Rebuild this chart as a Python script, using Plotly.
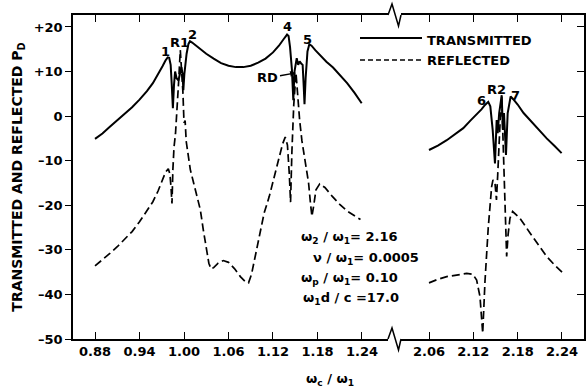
import plotly.graph_objects as go

# ---------------- data ----------------
# lower branch (around the fundamental resonance)
t_left_x = [0.880, 0.890, 0.900, 0.910, 0.920, 0.930, 0.940, 0.950, 0.958, 0.965,
            0.971, 0.975, 0.978, 0.980, 0.982, 0.9835, 0.985, 0.9865, 0.988, 0.990,
            0.9925, 0.9945, 0.9965, 0.998, 0.9991, 1.0005, 1.0015, 1.0035, 1.006, 1.008,
            1.011, 1.016, 1.022, 1.030, 1.040, 1.050, 1.060, 1.070, 1.080, 1.090,
            1.100, 1.110, 1.120, 1.128, 1.134, 1.139, 1.141, 1.143, 1.1455, 1.1474,
            1.149, 1.1505, 1.152, 1.154, 1.156, 1.158, 1.160, 1.1615, 1.1625, 1.164,
            1.1665, 1.169, 1.172, 1.177, 1.184, 1.192, 1.201, 1.210, 1.220, 1.230, 1.2396]
t_left_y = [-5.1, -3.9, -2.4, -1.0, 0.5, 2.0, 3.7, 5.6, 7.4, 9.3,
            11.2, 12.5, 13.2, 13.1, 11.5, 7.0, 1.8, 7.0, 10.0, 8.5,
            8.0, 9.5, 11.0, 9.5, 5.8, 9.5, 11.5, 14.0, 16.2, 16.8,
            16.5, 15.8, 15.0, 14.0, 12.9, 11.9, 11.3, 11.0, 11.0, 11.3,
            12.0, 12.9, 14.3, 15.8, 17.2, 18.3, 18.0, 15.5, 10.5, 3.6,
            10.0, 12.0, 13.0, 11.5, 12.3, 11.8, 11.5, 6.5, 2.7, 8.5,
            14.5, 16.1, 15.8, 14.8, 13.6, 12.2, 10.9, 9.3, 7.4, 5.2, 2.9]

r_left_x = [0.880, 0.890, 0.900, 0.910, 0.920, 0.930, 0.940, 0.950, 0.958, 0.965,
            0.971, 0.975, 0.9788, 0.981, 0.9825, 0.9838, 0.985, 0.9865, 0.9885, 0.9905,
            0.9925, 0.995, 0.9965, 0.9985, 1.000, 1.0015, 1.003, 1.0055, 1.0085, 1.013,
            1.018, 1.022, 1.026, 1.030, 1.0335, 1.0365, 1.040, 1.046, 1.053, 1.060,
            1.068, 1.076, 1.083, 1.087, 1.091, 1.096, 1.102, 1.108, 1.115, 1.122,
            1.128, 1.133, 1.1365, 1.1395, 1.142, 1.1437, 1.1455, 1.148, 1.151, 1.153,
            1.156, 1.159, 1.162, 1.165, 1.168, 1.1705, 1.1725, 1.175, 1.178, 1.183,
            1.190, 1.200, 1.210, 1.220, 1.230, 1.238]
r_left_y = [-33.6, -32.3, -30.8, -29.3, -27.7, -25.9, -23.7, -21.3, -19.2, -16.8,
            -14.3, -12.6, -11.8, -13.0, -16.0, -19.6, -12.0, -7.0, -4.0, 0.5,
            7.0, 14.8, 11.0, 5.5, -1.5, -1.0, -5.7, -9.0, -12.0, -15.0,
            -18.0, -21.0, -25.5, -29.8, -33.0, -34.3, -34.0, -33.0, -32.4, -32.8,
            -34.2, -36.0, -37.2, -37.4, -35.5, -31.5, -26.5, -21.8, -18.0, -13.5,
            -9.0, -6.2, -4.7, -6.5, -13.0, -19.3, -8.0, 2.5, 9.7, 5.0,
            -1.0, -5.5, -9.0, -11.5, -15.0, -19.5, -22.5, -20.0, -16.5, -15.2,
            -16.0, -18.0, -19.8, -21.3, -22.4, -23.2]

# upper branch (around omega_2)
t_right_x = [2.060, 2.072, 2.084, 2.095, 2.1064, 2.116, 2.1245, 2.131, 2.1358, 2.1402,
             2.143, 2.1462, 2.1493, 2.1516, 2.153, 2.155, 2.1584, 2.160, 2.1615, 2.1642,
             2.1665, 2.169, 2.1705, 2.174, 2.180, 2.188, 2.1967, 2.208, 2.2193, 2.230, 2.2395]
t_right_y = [-7.6, -6.6, -5.4, -4.1, -2.7, -1.0, 0.3, 1.5, 2.5, 3.2,
             2.2, -3.1, -10.6, -0.9, -3.8, 0.7, 4.7, -3.1, 0.7, -8.7,
             0.7, 3.5, 4.4, 3.8, 2.6, 0.7, -0.9, -3.0, -5.0, -6.7, -8.3]

r_right_x = [2.060, 2.072, 2.084, 2.098, 2.111, 2.1195, 2.1245, 2.129, 2.1327, 2.1358,
             2.1402, 2.1448, 2.1466, 2.1493, 2.1513, 2.153, 2.1547, 2.157, 2.1584, 2.160,
             2.1615, 2.163, 2.1651, 2.167, 2.1696, 2.1732, 2.183, 2.1967, 2.208, 2.2193,
             2.230, 2.2413]
r_right_y = [-37.4, -36.6, -36.0, -35.6, -35.3, -35.5, -36.8, -40.5, -48.7, -37.0,
             -25.0, -15.8, -14.3, -15.0, -18.8, -13.2, -5.4, 1.4, 4.4, -5.4,
             -12.0, -18.8, -31.5, -26.7, -22.9, -21.4, -22.9, -26.2, -29.0, -31.5,
             -33.4, -35.2]

y_ticks = [-50, -40, -30, -20, -10, 0, 10, 20]
y_tick_text = ["–50", "–40", "–30", "–20", "–10", "0", "+10", "+20"]
x_left_ticks = [0.88, 0.94, 1.00, 1.06, 1.12, 1.18, 1.24]
x_right_ticks = [2.06, 2.12, 2.18, 2.24]

# ---------------- layout geometry ----------------
W, H = 587, 391
ML, MR, MT, MB = 73, 3, 15, 52
PW, PH = W - ML - MR, H - MT - MB


def px(xp):
    return (xp - ML) / PW


def py(yp):
    return (H - MB - yp) / PH


GAP_L, GAP_R = 388, 401
FONT = dict(family="DejaVu Sans", size=13, color="black", weight="bold")
SOLID = dict(color="black", width=2)
DASHED = dict(color="black", width=1.7, dash="8px,4px")

fig = go.Figure()
fig.add_trace(go.Scatter(x=t_left_x, y=t_left_y, mode="lines", line=SOLID,
                         name="TRANSMITTED", xaxis="x", yaxis="y"))
fig.add_trace(go.Scatter(x=r_left_x, y=r_left_y, mode="lines", line=DASHED,
                         name="REFLECTED", xaxis="x", yaxis="y"))
fig.add_trace(go.Scatter(x=t_right_x, y=t_right_y, mode="lines", line=SOLID,
                         name="TRANSMITTED", xaxis="x2", yaxis="y2"))
fig.add_trace(go.Scatter(x=r_right_x, y=r_right_y, mode="lines", line=DASHED,
                         name="REFLECTED", xaxis="x2", yaxis="y2"))

y_range = [-50, 22.69]
xcommon = dict(showline=True, linecolor="black", linewidth=1.5, mirror="ticks",
               ticks="inside", ticklen=7, tickwidth=1.2, tickcolor="black",
               showgrid=False, zeroline=False, tickfont=FONT)

fig.update_layout(
    width=W, height=H, autosize=False,
    margin=dict(l=ML, r=MR, t=MT, b=MB),
    paper_bgcolor="white", plot_bgcolor="white",
    showlegend=False,
    xaxis=dict(domain=[0, px(GAP_L)], range=[0.8503, 1.2751], anchor="y",
               tickvals=x_left_ticks, ticktext=[f"{v:.2f}" for v in x_left_ticks],
               **xcommon),
    xaxis2=dict(domain=[px(GAP_R), 1], range=[2.0221, 2.2698], anchor="y2",
                tickvals=x_right_ticks, ticktext=[f"{v:.2f}" for v in x_right_ticks],
                **xcommon),
    yaxis=dict(range=y_range, anchor="x", tickvals=y_ticks, ticktext=y_tick_text,
               showline=True, linecolor="black", linewidth=1.5, ticks="outside",
               ticklen=6, tickwidth=1.2, tickcolor="black", showgrid=False,
               zeroline=False, tickfont=FONT,
               title=dict(text="TRANSMITTED AND REFLECTED P<sub>D</sub>",
                          font=dict(family="DejaVu Sans", size=14, color="black",
                                    weight="bold"),
                          standoff=8)),
    yaxis2=dict(range=y_range, anchor="x2", side="right", tickvals=y_ticks,
                showticklabels=False, showline=True, linecolor="black", linewidth=1.5,
                ticks="inside", ticklen=7, tickwidth=1.2, tickcolor="black",
                showgrid=False, zeroline=False),
)

# axis break marks (top and bottom frame)
for base in (H - MB, MT):
    pts = [(GAP_L, base), (GAP_L + 4, base - 11), (GAP_L + 10.5, base + 11), (GAP_R, base)]
    path = "M " + " L ".join(f"{px(a):.5f},{py(b):.5f}" for a, b in pts)
    fig.add_shape(type="path", path=path, xref="paper", yref="paper",
                  line=dict(color="black", width=1.5))

# key
fig.add_shape(type="line", xref="paper", yref="paper", x0=px(360), x1=px(422),
              y0=py(38), y1=py(38), line=SOLID)
fig.add_shape(type="line", xref="paper", yref="paper", x0=px(360), x1=px(421),
              y0=py(60), y1=py(60), line=dict(color="black", width=1.5, dash="5px,3px"))
fig.add_annotation(text="TRANSMITTED", xref="paper", yref="paper", x=px(425), y=py(40),
                   xanchor="left", yanchor="middle", showarrow=False, font=FONT)
fig.add_annotation(text="REFLECTED", xref="paper", yref="paper", x=px(425), y=py(61),
                   xanchor="left", yanchor="middle", showarrow=False, font=FONT)

# resonance labels
for txt, xv, yv, ax in [("1", 0.9744, 14.4, "x"), ("R1", 0.9933, 16.6, "x"),
                        ("2", 1.0121, 18.4, "x"), ("4", 1.1402, 20.0, "x"),
                        ("5", 1.1672, 17.3, "x"), ("6", 2.1317, 3.6, "x2"),
                        ("R2", 2.1507, 5.9, "x2"), ("7", 2.1764, 4.7, "x2")]:
    fig.add_annotation(text=txt, x=xv, y=yv, xref=ax, yref="y", showarrow=False,
                       font=FONT, xanchor="center", yanchor="middle")

fig.add_annotation(text="RD", x=1.151, y=9.7, xref="x", yref="y", ax=-28, ay=5,
                   showarrow=True, arrowhead=2, arrowsize=0.9, arrowwidth=1.3,
                   arrowcolor="black", font=FONT)

# parameter block
params = [("ω<sub>2</sub> / ω<sub>1</sub>= 2.16", 299, 238),
          ("ν / ω<sub>1</sub>= 0.0005", 311, 258),
          ("ω<sub>p</sub> / ω<sub>1</sub>= 0.10", 299, 278),
          ("ω<sub>1</sub>d / c =17.0", 301, 298)]
for txt, xp, yp in params:
    fig.add_annotation(text=txt, xref="paper", yref="paper", x=px(xp), y=py(yp),
                       xanchor="left", yanchor="middle", showarrow=False, font=FONT)

# abscissa title
fig.add_annotation(text="ω<sub>c</sub> / ω<sub>1</sub>", xref="paper", yref="paper",
                   x=px(330), y=py(380), xanchor="center", yanchor="middle",
                   showarrow=False, font=FONT)

fig.write_html("out.html")
